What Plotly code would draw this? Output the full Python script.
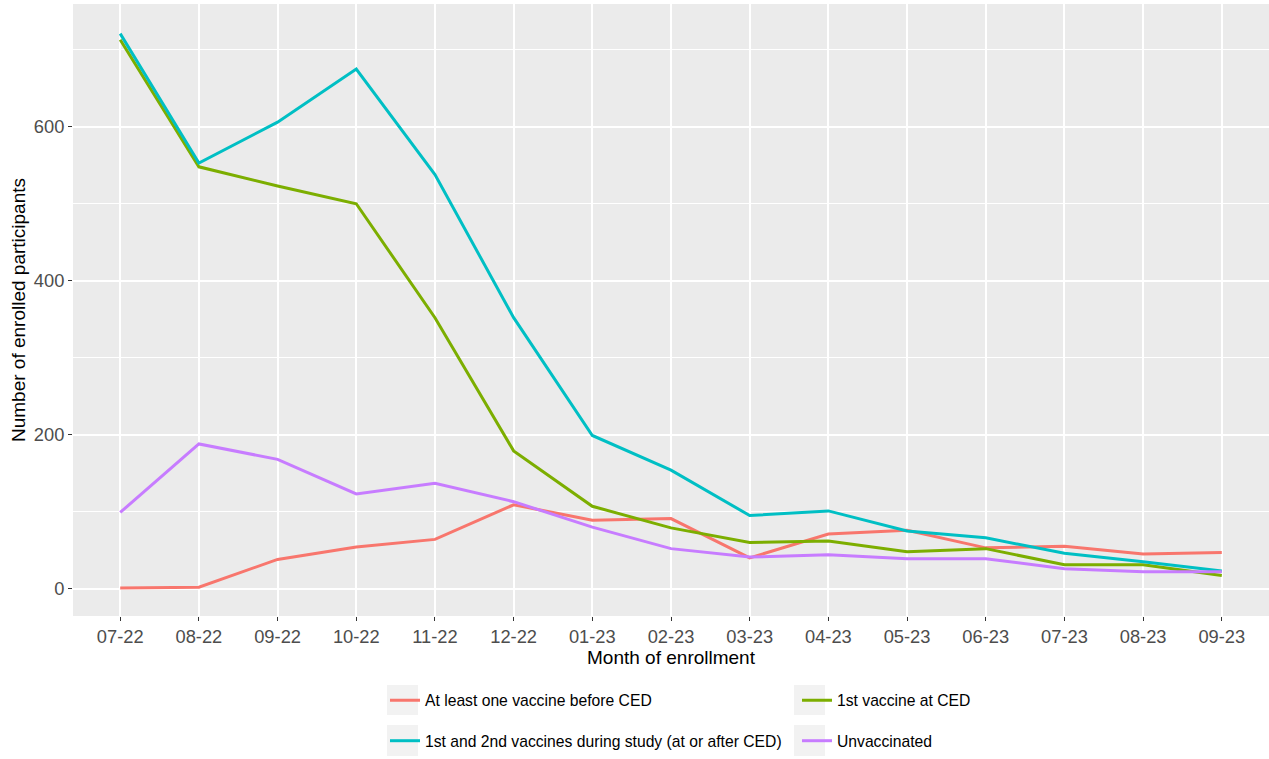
import plotly.graph_objects as go

months = ["07-22", "08-22", "09-22", "10-22", "11-22", "12-22", "01-23", "02-23",
          "03-23", "04-23", "05-23", "06-23", "07-23", "08-23", "09-23"]

before_ced = [1, 2, 38, 54, 64, 109, 89, 91, 40, 71, 76, 53, 55, 45, 47]
first_at_ced = [713, 548, 523, 500, 352, 179, 107, 79, 60, 62, 48, 52, 31, 31, 17]
during_study = [721, 553, 606, 675, 538, 352, 199, 154, 95, 101, 75, 66, 46, 35, 23]
unvaccinated = [99, 188, 168, 123, 137, 113, 80, 52, 41, 44, 39, 39, 26, 22, 22]

series = [
    ("At least one vaccine before CED", before_ced, "#F8766D", "legend"),
    ("1st vaccine at CED", first_at_ced, "#7CAE00", "legend"),
    ("1st and 2nd vaccines during study (at or after CED)", during_study, "#00BFC4", "legend2"),
    ("Unvaccinated", unvaccinated, "#C77CFF", "legend2"),
]

W, H = 1269, 759
L, R, T, B = 73, 0, 4, 143

fig = go.Figure()
for name, vals, color, leg in series:
    fig.add_trace(go.Scatter(
        x=list(range(len(months))), y=vals, mode="lines", name=name,
        line=dict(color=color, width=3), legend=leg,
    ))

font = "Liberation Sans, Arial, sans-serif"
legend_common = dict(
    orientation="h", xref="container", yref="container",
    x=385 / W, xanchor="left", yanchor="middle",
    font=dict(family=font, size=15.7, color="#000000"),
    bgcolor="rgba(0,0,0,0)", entrywidth=367, entrywidthmode="pixels",
    itemwidth=30, traceorder="normal",
)

# grey key backgrounds in the legend
shapes = []
ph = H - T - B
for (x0, x1) in [(387, 418), (794, 825)]:
    for (y0, y1) in [(685, 715), (725, 756)]:
        shapes.append(dict(
            type="rect", xref="paper", yref="paper",
            x0=(x0 - L) / (W - L - R), x1=(x1 - L) / (W - L - R),
            y0=(H - B - y1) / ph, y1=(H - B - y0) / ph,
            fillcolor="#F2F2F2", line=dict(width=0), layer="below",
        ))

fig.update_layout(
    width=W, height=H,
    margin=dict(l=L, r=R, t=T, b=B),
    paper_bgcolor="white", plot_bgcolor="#EBEBEB",
    font=dict(family=font, size=15, color="#000000"),
    showlegend=True,
    legend=dict(legend_common, y=1 - 700.5 / H),
    legend2=dict(legend_common, y=1 - 741 / H),
    shapes=shapes,
    xaxis=dict(
        range=[-0.6, len(months) - 1 + 0.6],
        tickmode="array", tickvals=list(range(len(months))), ticktext=months,
        showgrid=True, gridcolor="white", gridwidth=2,
        ticks="outside", ticklen=4, tickcolor="#333333", tickwidth=1,
        tickfont=dict(family=font, size=18.3, color="#4D4D4D"),
        title=dict(text="Month of enrollment", font=dict(family=font, size=19, color="#000000"), standoff=3),
        zeroline=False, showline=False,
    ),
    yaxis=dict(
        range=[-35.5, 759.5],
        tickmode="array", tickvals=[0, 200, 400, 600],
        showgrid=True, gridcolor="white", gridwidth=2,
        minor=dict(tickmode="array", tickvals=[100, 300, 500, 700], showgrid=True,
                   gridcolor="white", gridwidth=1, ticks=""),
        ticks="outside", ticklen=4, tickcolor="#333333", tickwidth=1,
        tickfont=dict(family=font, size=18.3, color="#4D4D4D"),
        title=dict(text="Number of enrolled participants", font=dict(family=font, size=19, color="#000000"), standoff=3),
        zeroline=False, showline=False,
    ),
)

fig.write_html("out.html")
